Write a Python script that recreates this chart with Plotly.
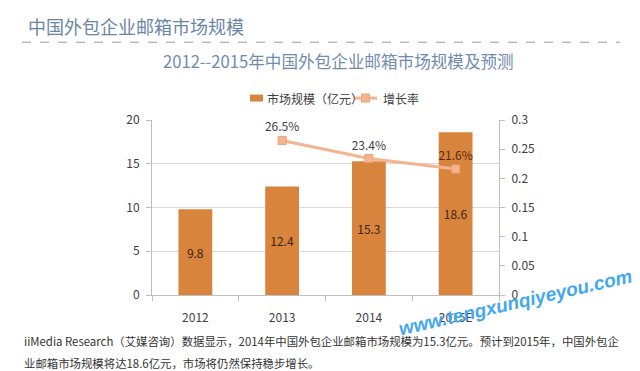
import plotly.graph_objects as go

years = ["2012", "2013", "2014", "2015E"]
market_size = [9.8, 12.4, 15.3, 18.6]
growth_years = ["2013", "2014", "2015E"]
growth_rate = [0.265, 0.234, 0.216]
growth_labels = ["26.5%", "23.4%", "21.6%"]

title_text = "中国外包企业邮箱市场规模"
subtitle_text = "2012--2015年中国外包企业邮箱市场规模及预测"
legend_bar = "市场规模（亿元）"
legend_line = "增长率"
note_line1 = "iiMedia Research（艾媒咨询）数据显示，2014年中国外包企业邮箱市场规模为15.3亿元。预计到2015年，中国外包企"
note_line2 = "业邮箱市场规模将达18.6亿元，市场将仍然保持稳步增长。"
watermark = "www.tengxunqiyeyou.com"

FONT = "Noto Sans CJK SC"
BAR = "#D9843C"
LINE = "#F3B48F"

# plot area in pixels
PL, PR, PT, PB = 152, 499, 120, 295.5
PW, PH = PR - PL, PB - PT


def px(x):
    return (x - PL) / PW


def py(y):
    return (PB - y) / PH


fig = go.Figure()
fig.add_trace(go.Bar(
    x=years, y=market_size, name=legend_bar,
    marker=dict(color=BAR, line=dict(width=0)),
    width=0.39,
    text=[str(v) for v in market_size], textposition="inside",
    insidetextanchor="middle",
    textfont=dict(color="#3b2410", size=12, family=FONT),
    yaxis="y", showlegend=False,
))
fig.add_trace(go.Scatter(
    x=growth_years, y=growth_rate, name=legend_line,
    mode="lines+markers+text",
    line=dict(color=LINE, width=3),
    marker=dict(symbol="square", size=8, color=LINE, line=dict(color="#E9A27A", width=1)),
    text=growth_labels, textposition="top center",
    textfont=dict(color=["#404040", "#404040", "#5a2a10"], size=12, family=FONT),
    yaxis="y2", showlegend=False,
))

fig.update_layout(
    width=640, height=371,
    margin=dict(l=PL, r=640 - PR, t=PT, b=371 - PB, pad=0),
    paper_bgcolor="white", plot_bgcolor="white",
    font=dict(family=FONT, size=12, color="#404040"),
    xaxis=dict(
        showline=True, linecolor="#BFBFBF", linewidth=1,
        ticks="outside", tickson="boundaries", ticklen=5, tickcolor="#BFBFBF",
        showgrid=False, tickfont=dict(size=12, color="#404040"),
        ticklabelstandoff=12,
    ),
    yaxis=dict(
        range=[0, 20], dtick=5, showgrid=True, gridcolor="#D9D9D9", gridwidth=1,
        showline=True, linecolor="#BFBFBF", ticks="outside", ticklen=5, tickcolor="#BFBFBF",
        zeroline=False, tickfont=dict(size=12, color="#404040"),
        ticklabelstandoff=4,
    ),
    yaxis2=dict(
        range=[0, 0.3], dtick=0.05, overlaying="y", side="right",
        showgrid=False, showline=True, linecolor="#BFBFBF", ticks="outside", ticklen=5,
        tickcolor="#BFBFBF", zeroline=False, tickfont=dict(size=12, color="#404040"),
        ticklabelstandoff=4,
    ),
    showlegend=False,
)

# manual legend
fig.add_shape(type="rect", xref="paper", yref="paper",
              x0=px(250), x1=px(263), y0=py(101.5), y1=py(94.5),
              fillcolor=BAR, line=dict(width=0))
fig.add_annotation(text=legend_bar, xref="paper", yref="paper",
                   x=px(265), y=py(98), xanchor="left", yanchor="middle",
                   showarrow=False, font=dict(size=12, color="#404040", family=FONT))
fig.add_shape(type="line", xref="paper", yref="paper",
              x0=px(354), x1=px(377), y0=py(98), y1=py(98),
              line=dict(color=LINE, width=3))
fig.add_shape(type="rect", xref="paper", yref="paper",
              x0=px(361.5), x1=px(369.5), y0=py(102), y1=py(94),
              fillcolor=LINE, line=dict(color="#E9A27A", width=1))
fig.add_annotation(text=legend_line, xref="paper", yref="paper",
                   x=px(381), y=py(98), xanchor="left", yanchor="middle",
                   showarrow=False, font=dict(size=12, color="#404040", family=FONT))

fig.add_annotation(text=title_text, xref="paper", yref="paper",
                   x=px(26), y=py(26), xanchor="left", yanchor="middle",
                   showarrow=False, font=dict(size=18, color="#6A86A6", family=FONT))
fig.add_shape(type="line", xref="paper", yref="paper",
              x0=px(22), x1=px(620), y0=py(42), y1=py(42),
              line=dict(color="#9A9A9A", width=1, dash="dash"))
fig.add_annotation(text=subtitle_text, xref="paper", yref="paper",
                   x=px(338), y=py(61), xanchor="center", yanchor="middle",
                   showarrow=False, font=dict(size=16.6, color="#6F8CAE", family=FONT))
fig.add_annotation(text=note_line1, xref="paper", yref="paper",
                   x=px(22), y=py(342), xanchor="left", yanchor="middle",
                   showarrow=False, font=dict(size=11.4, color="#333333", family=FONT))
fig.add_annotation(text=note_line2, xref="paper", yref="paper",
                   x=px(22), y=py(364), xanchor="left", yanchor="middle",
                   showarrow=False, font=dict(size=11.4, color="#333333", family=FONT))
fig.add_annotation(text="<i><b>" + watermark + "</b></i>", xref="paper", yref="paper",
                   x=px(515), y=py(303), xanchor="center", yanchor="middle",
                   textangle=-13, showarrow=False,
                   font=dict(size=19, color="#45A8EE", family="Liberation Sans"))

fig.write_html("out.html", post_script="document.body.style.margin='0';",
               config={"displayModeBar": False})
